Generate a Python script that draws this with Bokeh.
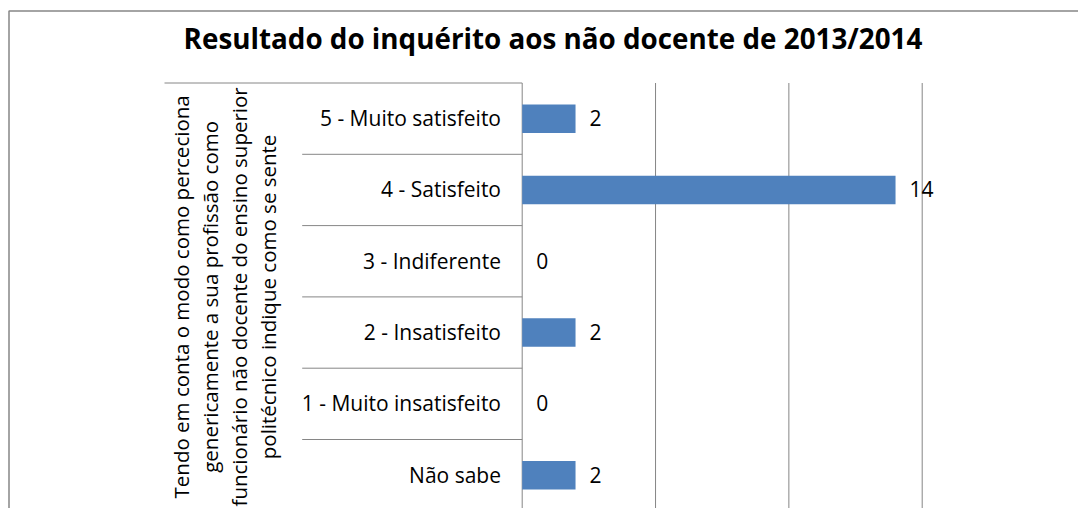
import math
from bokeh.plotting import figure
from bokeh.models import Range1d, ColumnDataSource
from bokeh.core.properties import value
from bokeh.embed import file_html
from bokeh.resources import INLINE

# ---------------- data ----------------
title_text = "Resultado do inquérito aos não docente de 2013/2014"
categories = ["5 - Muito satisfeito", "4 - Satisfeito", "3 - Indiferente",
              "2 - Insatisfeito", "1 - Muito insatisfeito", "Não sabe"]
counts = [2, 14, 0, 2, 0, 2]
group_label_lines = [
    "Tendo em conta o modo como perceciona",
    "genericamente a sua profissão como",
    "funcionário não docente do ensino superior",
    "politécnico indique como se sente",
]
x_ticks = [0, 5, 10, 15]

# ---------------- layout (pixels) ----------------
W, H = 1078, 508
PLOT_LEFT = 521.7          # px of value 0
PLOT_RIGHT = 921.7         # px of the last tick
BAND_PX = 71.3
TOP_PX = 82.5              # px of top of category area

s = (PLOT_RIGHT - PLOT_LEFT) / (x_ticks[-1] - x_ticks[0])
x_start = x_ticks[0] - PLOT_LEFT / s
x_end = x_start + W / s
y_top = -TOP_PX / BAND_PX
y_bottom = y_top + H / BAND_PX


def xpx(px):
    return x_start + px / s


def ypx(py):
    return y_top + py / BAND_PX


FONT = "Open Sans"
GRAY = "#868686"
TXT = "#000000"

p = figure(width=W, height=H, output_backend="svg", toolbar_location=None,
           x_range=Range1d(x_start, x_end), y_range=Range1d(y_bottom, y_top),
           x_axis_location=None, y_axis_location=None, min_border=0,
           outline_line_color=None, background_fill_color="white",
           border_fill_color="white")
p.xgrid.visible = False
p.ygrid.visible = False

n = len(categories)
centers = [k + 0.5 for k in range(n)]

# outer chart border (left + top visible)
p.line(x=[xpx(8.5), xpx(8.5), x_end], y=[y_bottom, ypx(10.5), ypx(10.5)],
       line_color=GRAY, line_width=1.5)

# vertical gridlines + axis line
p.segment(x0=x_ticks, x1=x_ticks, y0=[0] * len(x_ticks), y1=[y_bottom] * len(x_ticks),
          line_color=GRAY, line_width=1)

# category separators
p.segment(x0=[xpx(164)], x1=[0], y0=[0], y1=[0], line_color=GRAY, line_width=1)
bounds = list(range(1, n + 1))
p.segment(x0=[xpx(301.7)] * len(bounds), x1=[0] * len(bounds), y0=bounds, y1=bounds,
          line_color=GRAY, line_width=1)

# bars
src = ColumnDataSource(dict(y=centers, right=counts, cat=categories))
p.hbar(y="y", left=0, right="right", height=0.4, source=src,
       fill_color="#4F81BD", line_color=None)

cap_dy = -0.5 / BAND_PX
lab_src = ColumnDataSource(dict(x=counts, y=[c + cap_dy for c in centers],
                                lab=[str(v) for v in counts]))
p.text(x="x", y="y", text="lab", source=lab_src, x_offset=14,
       text_align="left", text_baseline="alphabetic",
       text_font=value(FONT), text_font_size="21px", text_color=TXT)

p.text(x=[xpx(500.5)] * n, y=[c + cap_dy for c in centers], text=categories,
       text_align="right", text_baseline="alphabetic",
       text_font=value(FONT), text_font_size="21px", text_color=TXT)

# group label (rotated)
gl_x = [xpx(180 + 29 * i) for i in range(len(group_label_lines))]
p.text(x=gl_x, y=[n / 2] * len(group_label_lines), text=group_label_lines,
       angle=math.pi / 2, text_align="center", text_baseline="alphabetic",
       text_font=value(FONT), text_font_size="20.5px", text_color=TXT)

# title
p.text(x=[xpx(552.5)], y=[ypx(37.2)], text=[title_text],
       text_align="center", text_baseline="alphabetic",
       text_font=value(FONT), text_font_style="bold", text_font_size="27.8px",
       text_color=TXT)

open("out.html", "w").write(file_html(p, INLINE))
